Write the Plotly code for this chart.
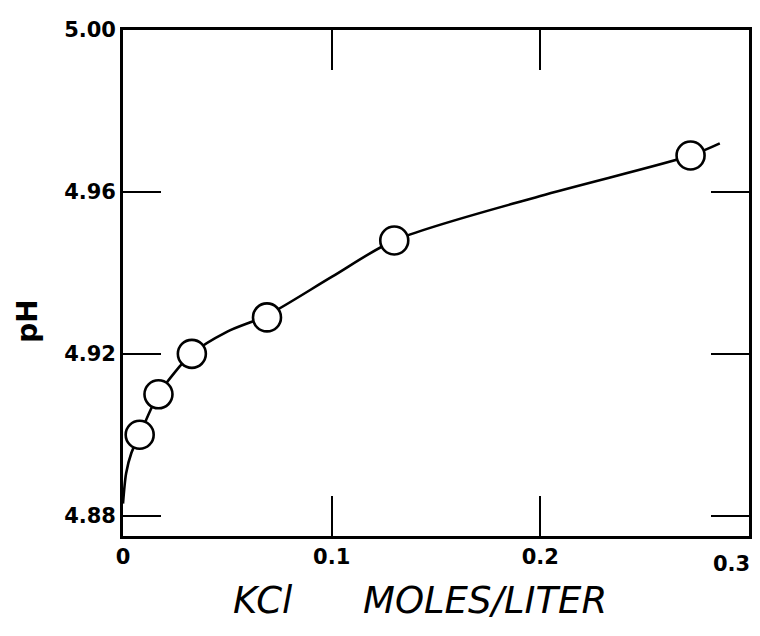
import plotly.graph_objects as go

# Measured points (KCl concentration, pH)
kcl = [0.008, 0.017, 0.033, 0.069, 0.130, 0.272]
ph = [4.900, 4.910, 4.920, 4.929, 4.948, 4.969]

# Hand-drawn smooth curve
curve_x = [0.0, 0.0015, 0.004, 0.008, 0.017, 0.033, 0.050, 0.069, 0.100, 0.130, 0.200, 0.272, 0.286]
curve_y = [4.883, 4.8905, 4.8955, 4.900, 4.910, 4.920, 4.9255, 4.9295, 4.939, 4.948, 4.959, 4.969, 4.972]

x_ticks = [0, 0.1, 0.2, 0.3]
x_tick_text = ["0", "0.1", "0.2", "0.3"]
y_ticks = [4.88, 4.92, 4.96, 5.00]
y_tick_text = ["4.88", "4.92", "4.96", "5.00"]

fig = go.Figure()
fig.add_trace(go.Scatter(
    x=curve_x, y=curve_y, mode="lines",
    line=dict(color="black", width=2.6, shape="spline", smoothing=0.8),
    hoverinfo="skip", showlegend=False,
))
fig.add_trace(go.Scatter(
    x=kcl, y=ph, mode="markers",
    marker=dict(size=28, color="white", line=dict(color="black", width=2.6)),
    showlegend=False,
))

font_fam = "DejaVu Sans, Liberation Sans, sans-serif"

annotations = [
    dict(text="KCl      MOLES/LITER", xref="paper", yref="paper", x=0.475, y=-0.128,
         xanchor="center", yanchor="middle", showarrow=False,
         font=dict(size=37, family=font_fam, style="italic")),
    dict(text="pH", xref="paper", yref="paper", x=-0.152, y=0.425,
         xanchor="center", yanchor="middle", showarrow=False, textangle=-90,
         font=dict(size=28, family=font_fam, weight="bold")),
]
# last x tick label drawn as annotation so it stays inside the window
annotations.append(dict(
    text=x_tick_text[-1], xref="x", yref="paper", x=x_ticks[-1], y=0, yshift=-14,
    xanchor="right", yanchor="top", xshift=3, showarrow=False,
    font=dict(size=21, family=font_fam, weight="bold"),
))

fig.update_layout(
    width=745, height=621,
    margin=dict(l=115, r=4, t=22, b=93),
    paper_bgcolor="white", plot_bgcolor="white",
    font=dict(family=font_fam, color="black"),
    xaxis=dict(
        range=[0, 0.3], tickvals=x_ticks, ticktext=x_tick_text[:-1] + [""],
        showgrid=False, zeroline=False, showline=True, linecolor="black", linewidth=2.6,
        mirror="ticks", ticks="inside", ticklen=40, tickwidth=2.4, tickcolor="black",
        tickfont=dict(size=21, family=font_fam, weight="bold"),
        automargin=False,
    ),
    yaxis=dict(
        range=[4.875, 5.0], tickvals=y_ticks, ticktext=y_tick_text,
        showgrid=False, zeroline=False, showline=True, linecolor="black", linewidth=2.6,
        mirror="ticks", ticks="inside", ticklen=38, tickwidth=2.4, tickcolor="black",
        tickfont=dict(size=21, family=font_fam, weight="bold"),
        automargin=False,
    ),
    annotations=annotations,
)

fig.write_html("out.html")
